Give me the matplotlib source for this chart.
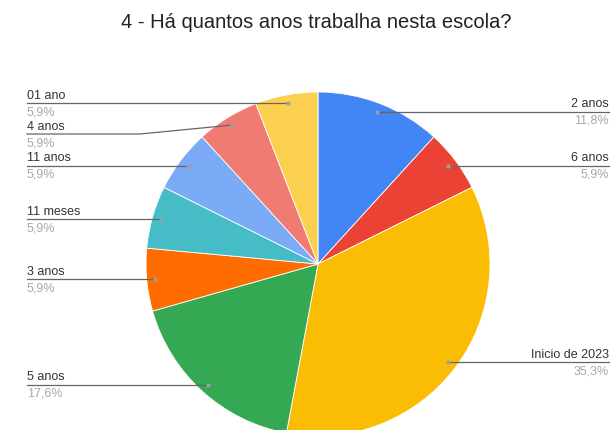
import numpy as np
import matplotlib.pyplot as plt

plt.rcParams['font.family'] = ['Liberation Sans', 'DejaVu Sans']

# respostas (ordem horaria a partir do topo)
labels = ['2 anos', '6 anos', 'Inicio de 2023', '5 anos', '3 anos',
          '11 meses', '11 anos', '4 anos', '01 ano']
counts = [2, 1, 6, 3, 1, 1, 1, 1, 1]
colors = ['#4285F4', '#EA4335', '#FBBC04', '#34A853', '#FF6D01',
          '#46BDC6', '#7BAAF7', '#F07B72', '#FCD04F']

# altura (px da imagem) da linha de cada rotulo
line_y = [112, 166, 360, 382, 279, 218, 166, 135, 106]

W, H = 613, 431
cx, cy, R = 318, H - 265, 172

fig = plt.figure(figsize=(W / 100, H / 100), dpi=100)
ax = fig.add_axes([0, 0, 1, 1])

ax.pie(counts, colors=colors, startangle=90, counterclock=False,
       center=(cx, cy), radius=R, frame=True,
       wedgeprops=dict(linewidth=0.6, edgecolor='white'))
ax.set_xlim(0, W)
ax.set_ylim(0, H)
ax.set_aspect('equal')
ax.axis('off')

total = sum(counts)
frac = np.array(counts) / total
start = np.concatenate(([0], np.cumsum(frac)[:-1]))
mid = start + frac / 2
ang = np.deg2rad(90 - mid * 360)

for i, lab in enumerate(labels):
    dx = cx + 0.95 * R * np.cos(ang[i])
    dy = cy + 0.95 * R * np.sin(ang[i])
    ly = H - line_y[i]
    bent = abs(dy - ly) > 6
    if not bent:
        ly = dy
    pct = f'{frac[i] * 100:.1f}%'.replace('.', ',')
    ax.plot(dx, dy, 'o', ms=2, color='#9aa0a6', zorder=5)
    if np.cos(ang[i]) >= 0:
        ax.plot([dx, 609], [ly, ly], color='#666666', lw=0.9, zorder=4)
        tx, ha = 609, 'right'
    else:
        if bent:
            ax.plot([27, 140, dx], [ly, ly, dy], color='#666666', lw=0.9, zorder=4)
        else:
            ax.plot([27, dx], [ly, ly], color='#666666', lw=0.9, zorder=4)
        tx, ha = 27, 'left'
    ax.text(tx, ly + 2.5, lab, ha=ha, va='bottom', fontsize=9, color='#333333')
    ax.text(tx, ly - 2, pct, ha=ha, va='top', fontsize=9, color='#a8a8a8')

fig.text(316 / W, 1 - 23 / H, '4 - Há quantos anos trabalha nesta escola?',
         ha='center', va='center', fontsize=14.5, color='#222222')

fig.savefig('out.png', dpi=100)
